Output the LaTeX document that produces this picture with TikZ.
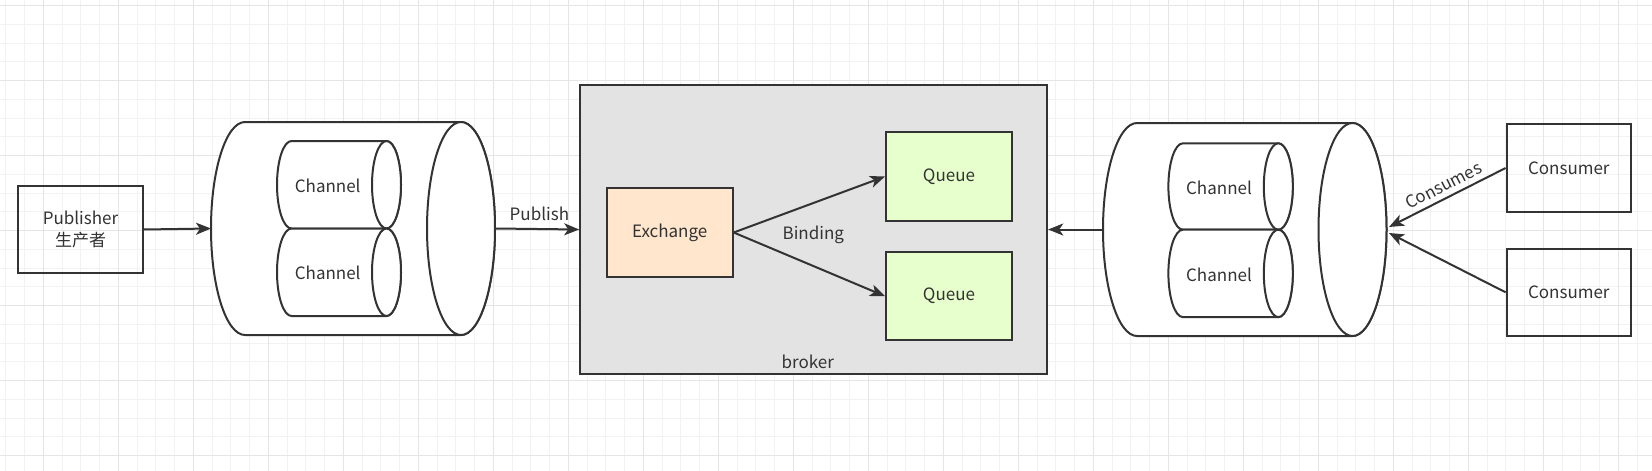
\documentclass[tikz,border=0pt]{standalone}
\usepackage{fontspec}
\setmainfont{Noto Sans CJK SC}
\usepackage{tikz}
\usetikzlibrary{arrows.meta}
\definecolor{edge}{HTML}{333333}
\definecolor{exfill}{HTML}{FFE6CC}
\definecolor{qfill}{HTML}{E6FFCC}
\definecolor{brokerfill}{HTML}{E3E3E3}
\tikzset{box/.style={draw=edge,line width=2pt,minimum width=125pt,minimum height=87pt,inner sep=0pt,align=center,text=black!80,font=\fontsize{17}{21.5}\selectfont},
	pipeline/.style={draw=edge,fill=white,line width=2pt},
	link/.style={draw=edge,line width=2pt,-{Stealth[length=15pt,width=12pt,inset=4pt]}},
	lbl/.style={text=black!80,font=\fontsize{17}{21.5}\selectfont,inner sep=0pt}}
\def\gminor{black!5}
\def\gmajor{black!10}
% name, left, top, right, bottom, x radius of the ends
\newcommand{\pipe}[6]{%
	\draw[pipeline] ({#2+#6},#3) -- ({#4-#6},#3) arc[start angle=-90,end angle=90,x radius=#6,y radius={(#5-#3)/2}]
		-- ({#2+#6},#5) arc[start angle=90,end angle=270,x radius=#6,y radius={(#5-#3)/2}] -- cycle;
	\draw[pipeline] ({#4-#6},{(#3+#5)/2}) ellipse [x radius=#6,y radius={(#5-#3)/2}];
	\coordinate (#1w) at (#2,{(#3+#5)/2});
	\coordinate (#1e) at (#4,{(#3+#5)/2});}

\begin{document}
\begin{tikzpicture}[x=1pt,y={(0pt,-1pt)}]
				\fill[white] (0,0) rectangle (1652,471);
				\useasboundingbox (0,0) rectangle (1652,471);
				% grid
				\foreach \i in {0,...,88} \draw[\gminor,line width=1pt] ({5.8+18.75*\i},0) -- ({5.8+18.75*\i},471);
				\foreach \j in {0,...,24} \draw[\gminor,line width=1pt] (0,{5.7+18.75*\j}) -- (1652,{5.7+18.75*\j});
				\foreach \i in {0,...,21} \draw[\gmajor,line width=1pt] ({43.3+75*\i},0) -- ({43.3+75*\i},471);
				\foreach \j in {0,...,6} \draw[\gmajor,line width=1pt] (0,{5.7+75*\j}) -- (1652,{5.7+75*\j});
				% publisher side
				\node[box] (pub) at (80.5,229.5) {Publisher\\生产者};
				\pipe{cylL}{211}{122}{495}{335}{34}
				\pipe{chLa}{277}{141}{401}{228.5}{14.5}
				\pipe{chLb}{277}{228.5}{401}{316}{14.5}
				\node[lbl] (chLat) at (327.7,185.4) {Channel};
				\node[lbl] (chLbt) at (327.7,272.9) {Channel};
				% broker
				\node[box,fill=brokerfill,minimum width=467pt,minimum height=289pt] (broker) at (813.7,229.5) {};
				\node[lbl] (brokert) at (807.7,362.3) {broker};
				\node[box,fill=exfill,minimum width=126pt,minimum height=88.4pt] (ex) at (669.7,232.5) {Exchange};
				\node[box,fill=qfill,minimum width=126pt,minimum height=88.4pt] (q1) at (949,176.5) {Queue};
				\node[box,fill=qfill,minimum width=126pt,minimum height=88.4pt] (q2) at (949,296.2) {Queue};
				% consumer side
				\pipe{cylR}{1103}{123}{1386.5}{336}{34}
				\pipe{chRa}{1168.4}{143.3}{1292.8}{229.7}{14.5}
				\pipe{chRb}{1168.4}{229.7}{1292.8}{317.1}{14.5}
				\node[lbl] (chRat) at (1219,187.5) {Channel};
				\node[lbl] (chRbt) at (1219,275) {Channel};
				\node[box,minimum width=124.4pt,minimum height=87.5pt] (con1) at (1568.8,168) {Consumer};
				\node[box,minimum width=124.4pt,minimum height=87.5pt] (con2) at (1568.8,292.3) {Consumer};
				\coordinate (tipA) at (1389,227);
				\coordinate (tipB) at (1389,233);
				% arrows
				\draw[link] (pub.east) -- (cylLw);
				\draw[link] (cylLe) -- (broker.west);
				\node[lbl] (pubt) at (539.4,213.9) {Publish};
				\draw[link] (ex.east) -- (q1.west);
				\draw[link] (ex.east) -- (q2.west);
				\node[lbl] (bindt) at (813.3,235) {Binding};
				\draw[link] (cylRw) -- (broker.east);
				\draw[link] (con1.west) -- (tipA);
				\draw[link] (con2.west) -- (tipB);
				\node[lbl,rotate=27] (const) at (1443.4,185.4) {Consumes};
\end{tikzpicture}
\end{document}
